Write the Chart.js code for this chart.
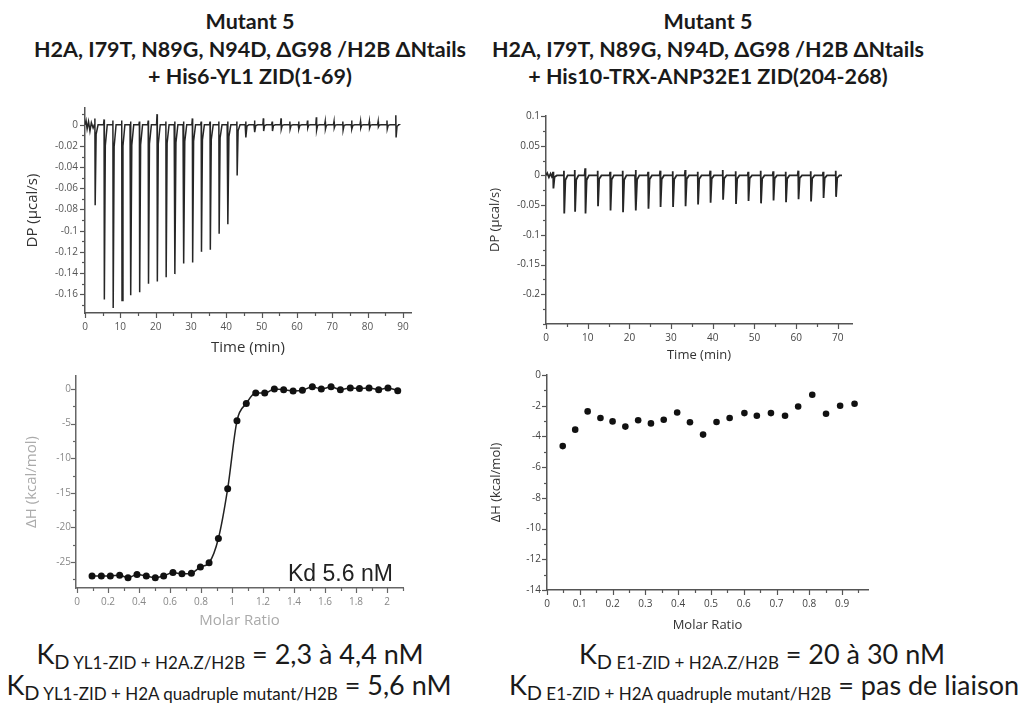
<!DOCTYPE html>
<html>
<head>
<meta charset="utf-8">
<script src="https://cdn.jsdelivr.net/npm/chart.js@4.4.1/dist/chart.umd.min.js"></script>
<style>
  html, body { margin: 0; padding: 0; background: #fff; }
  #page { position: relative; width: 1029px; height: 706px; overflow: hidden; font-family: Lato, 'Open Sans', sans-serif; color: #1a1a1a; }
  canvas { position: absolute; }
  .title { position: absolute; width: 560px; text-align: center; font-weight: 700; font-size: 21.5px; line-height: 27.5px; white-space: nowrap; }
  .kd { position: absolute; width: 600px; text-align: center; font-size: 27px; line-height: 30px; white-space: nowrap; }
  .kd sub { font-size: 17px; vertical-align: -5px; line-height: 0; }
  .kd sub .d { font-size: 20px; }
  .note { position: absolute; font-family: 'Liberation Sans', Arial, sans-serif; font-size: 23px; line-height: 23px; color: #222; }
</style>
</head>
<body>
<div id="page">
  <div class="title" style="left:-30px; top:8px">Mutant 5<br>H2A, I79T, N89G, N94D, ΔG98 /H2B ΔNtails<br>+ His6-YL1 ZID(1-69)</div>
  <div class="title" style="left:428px; top:8px">Mutant 5<br>H2A, I79T, N89G, N94D, ΔG98 /H2B ΔNtails<br>+ His10-TRX-ANP32E1 ZID(204-268)</div>

  <canvas id="thermoLeft" width="426" height="268" style="left:0px; top:95px"></canvas>
  <canvas id="isoLeft" width="418" height="268" style="left:0px; top:365px"></canvas>
  <canvas id="thermoRight" width="387" height="260" style="left:480px; top:104px"></canvas>
  <canvas id="isoRight" width="403" height="272" style="left:480px; top:363px"></canvas>

  <div class="note" style="left:288px; top:562px">Kd 5.6 nM</div>

  <div class="kd" style="left:-70px; top:639px">K<sub><span class="d">D</span> YL1-ZID + H2A.Z/H2B</sub> = 2,3 à 4,4 nM</div>
  <div class="kd" style="left:-71px; top:670px">K<sub><span class="d">D</span> YL1-ZID + H2A quadruple mutant/H2B</sub> = 5,6 nM</div>
  <div class="kd" style="left:462px; top:639px">K<sub><span class="d">D</span> E1-ZID + H2A.Z/H2B</sub> = 20 à 30 nM</div>
  <div class="kd" style="left:464px; top:670px">K<sub><span class="d">D</span> E1-ZID + H2A quadruple mutant/H2B</sub> = pas de liaison</div>
</div>

<script>
// ---- left thermogram (YL1 ZID) ----
const leftTimes = [2.8, 5.4, 7.9, 10.4, 12.9, 15.4, 17.9, 20.4, 22.9, 25.4, 27.9, 30.4, 32.9, 35.4, 37.9, 40.4, 43.0, 45.5,
  48.0, 50.5, 53.0, 55.5, 58.0, 60.5, 63.0, 65.5, 68.0, 70.5, 73.0, 75.5, 78.0, 80.5, 83.0, 85.5, 88.0];
const leftPeaks = [-0.076, -0.165, -0.173, -0.166, -0.161, -0.158, -0.150, -0.148, -0.144, -0.141, -0.131, -0.130, -0.120,
  -0.118, -0.103, -0.094, -0.048, -0.012, -0.007, -0.006, -0.006, -0.004, -0.004, -0.004, -0.003, -0.005, -0.004, -0.003,
  -0.005, -0.004, -0.003, -0.003, -0.002, -0.004, -0.012];
const leftBlips = [0.006, 0.005, 0.004, 0.004, 0.003, 0.003, 0.004, 0.010, 0.003, 0.003, 0.003, 0.006, 0.003, 0.003, 0.003,
  0.003, 0.003, 0.003, 0.004, 0.006, 0.003, 0.006, 0.003, 0.003, 0.004, 0.007, 0.003, 0.003, 0.003, 0.004, 0.003, 0.003,
  0.003, 0.004, 0.009];
const leftStart = [[0, 0], [0.3, 0.004], [0.6, -0.004], [1.0, 0.003], [1.4, -0.006], [1.8, 0.002], [2.3, -0.003]];
const leftEnd = 88.6;

// ---- left isotherm ----
const leftRatio = [0.097, 0.157, 0.215, 0.275, 0.329, 0.387, 0.447, 0.505, 0.559, 0.619, 0.677, 0.738, 0.796, 0.852, 0.912,
  0.972, 1.032, 1.092, 1.153, 1.211, 1.273, 1.333, 1.394, 1.454, 1.518, 1.576, 1.639, 1.699, 1.763, 1.822, 1.884, 1.946,
  2.006, 2.069];
const leftDH = [-27.0, -27.0, -27.0, -26.9, -27.25, -26.8, -27.0, -27.25, -27.0, -26.5, -26.7, -26.6, -25.7, -25.1, -21.6,
  -14.4, -4.6, -2.1, -0.6, -0.6, 0, -0.1, -0.3, -0.2, 0.3, 0, 0.3, -0.1, 0.15, 0.05, 0.15, -0.1, 0.15, -0.25];

// ---- right thermogram (ANP32E1 ZID) ----
const rightTimes = [1.7, 4.3, 6.9, 9.4, 12.4, 15.4, 18.4, 21.5, 24.5, 27.4, 30.4, 33.4, 36.4, 39.4, 42.4, 45.5, 48.5, 51.5,
  54.5, 57.5, 60.5, 63.5, 66.5, 69.5];
const rightPeaks = [-0.022, -0.064, -0.061, -0.064, -0.052, -0.059, -0.062, -0.059, -0.056, -0.053, -0.053, -0.052, -0.049,
  -0.046, -0.041, -0.048, -0.043, -0.047, -0.042, -0.045, -0.040, -0.044, -0.038, -0.036];
const rightBlips = [0.006, 0.008, 0.009, 0.012, 0.008, 0.006, 0.008, 0.009, 0.006, 0.008, 0.007, 0.009, 0.006, 0.008, 0.009,
  0.007, 0.006, 0.008, 0.007, 0.006, 0.008, 0.007, 0.006, 0.008];
const rightStart = [[0, 0], [0.3, 0.004], [0.7, -0.003], [1.1, 0.003], [1.4, -0.002]];
const rightEnd = 71;

// ---- right isotherm ----
const rightRatio = [0.048, 0.086, 0.124, 0.163, 0.200, 0.239, 0.278, 0.317, 0.356, 0.397, 0.436, 0.476, 0.517, 0.557, 0.602,
  0.640, 0.683, 0.726, 0.766, 0.809, 0.851, 0.894, 0.938];
const rightDH = [-4.63, -3.56, -2.37, -2.80, -3.02, -3.36, -2.95, -3.15, -2.91, -2.44, -3.08, -3.88, -3.06, -2.80, -2.48,
  -2.65, -2.48, -2.65, -2.05, -1.29, -2.52, -2.0, -1.87];

// ---- tick labels (major) and minor steps ----
const leftTimeTicks = [0, 10, 20, 30, 40, 50, 60, 70, 80, 90];
const leftDPTicks = [0, -0.02, -0.04, -0.06, -0.08, -0.1, -0.12, -0.14, -0.16];
const leftRatioTicks = [0, 0.2, 0.4, 0.6, 0.8, 1, 1.2, 1.4, 1.6, 1.8, 2];
const leftDHTicks = [0, -5, -10, -15, -20, -25];
const rightTimeTicks = [0, 10, 20, 30, 40, 50, 60, 70];
const rightDPTicks = [0.1, 0.05, 0, -0.05, -0.1, -0.15, -0.2];
const rightRatioTicks = [0, 0.1, 0.2, 0.3, 0.4, 0.5, 0.6, 0.7, 0.8, 0.9];
const rightDHTicks = [0, -2, -4, -6, -8, -10, -12, -14];

Chart.defaults.font.family = "'Open Sans', sans-serif";
Chart.defaults.animation = false;

// one spike per injection: small upward blip, sharp dip, quick return
function thermogram(start, times, peaks, blips, end) {
  const pts = start.map(p => ({x: p[0], y: p[1]}));
  times.forEach((t, i) => {
    pts.push({x: t - 0.15, y: 0});
    pts.push({x: t, y: blips[i]});
    pts.push({x: t + 0.08, y: peaks[i]});
    pts.push({x: t + 0.35, y: peaks[i] * 0.12});
    pts.push({x: t + 0.9, y: 0});
  });
  pts.push({x: end, y: 0});
  return pts;
}

function withMinors(majors, step, min, max) {
  const all = majors.map(v => ({value: v}));
  for (let v = Math.ceil(min / step) * step; v <= max + 1e-9; v += step) {
    const r = +v.toFixed(4);
    if (!majors.some(m => Math.abs(m - r) < 1e-6)) all.push({value: r, minor: true});
  }
  return all.sort((a, b) => a.value - b.value);
}

const fmt = v => String(+v.toFixed(3));

function axis(o) {
  return {
    type: 'linear',
    position: o.position,
    min: o.min,
    max: o.max,
    border: {display: true, color: o.axisColor, width: 1.5},
    grid: {display: false, drawTicks: false},
    afterBuildTicks: s => { s.ticks = withMinors(o.ticks, o.minor, o.min, o.max); },
    afterFit: s => {
      if (o.position === 'bottom') s.height = o.size; else s.width = o.size;
    },
    ticks: {
      autoSkip: false, maxRotation: 0, padding: o.pad, color: o.labelColor,
      font: {size: o.fontSize},
      callback: (v, i, ts) => ts[i].minor ? '' : fmt(v)
    },
    title: {display: true, text: o.title, color: o.titleColor, font: {size: o.titleSize}, padding: o.titlePad}
  };
}

// tick marks drawn by hand so minor ticks can be shorter
const tickMarks = {
  id: 'tickMarks',
  afterDraw(chart) {
    const ctx = chart.ctx;
    ctx.save();
    Object.values(chart.scales).forEach(scale => {
      ctx.strokeStyle = scale.options.border.color;
      ctx.lineWidth = 1.2;
      scale.ticks.forEach(t => {
        const len = t.minor ? 3 : 5;
        const p = Math.round(scale.getPixelForValue(t.value)) + 0.5;
        ctx.beginPath();
        if (scale.isHorizontal()) {
          ctx.moveTo(p, scale.top); ctx.lineTo(p, scale.top + len);
        } else {
          ctx.moveTo(scale.right - len, p); ctx.lineTo(scale.right, p);
        }
        ctx.stroke();
      });
    });
    ctx.restore();
  }
};

function makeChart(id, datasets, xAxis, yAxis) {
  return new Chart(document.getElementById(id), {
    type: 'scatter',
    data: {datasets},
    options: {
      responsive: false,
      devicePixelRatio: 1,
      layout: {padding: {left: 0, top: 10, right: 15, bottom: 0}},
      plugins: {legend: {display: false}, tooltip: {enabled: false}},
      scales: {x: axis(xAxis), y: axis(yAxis)}
    },
    plugins: [tickMarks]
  });
}

makeChart('thermoLeft',
  [{data: thermogram(leftStart, leftTimes, leftPeaks, leftBlips, leftEnd), showLine: true, pointRadius: 0,
    borderColor: '#262626', borderWidth: 1.5}],
  {position: 'bottom', min: 0, max: 92.3, ticks: leftTimeTicks, minor: 5, size: 50, pad: 8,
   axisColor: '#555', labelColor: '#555', fontSize: 10, title: 'Time (min)', titleColor: '#333', titleSize: 15,
   titlePad: {top: 0, bottom: 6}},
  {position: 'left', min: -0.1777, max: 0.0158, ticks: leftDPTicks, minor: 0.01, size: 85, pad: 7,
   axisColor: '#555', labelColor: '#555', fontSize: 10, title: 'DP (µcal/s)', titleColor: '#333', titleSize: 15,
   titlePad: {top: 24, bottom: 0}});

makeChart('isoLeft',
  [{data: leftRatio.map((x, i) => ({x, y: leftDH[i]})), showLine: true, cubicInterpolationMode: 'monotone',
    borderColor: '#222', borderWidth: 1.5, pointRadius: 3.5, pointBackgroundColor: '#111', pointBorderWidth: 0}],
  {position: 'bottom', min: -0.0065, max: 2.103, ticks: leftRatioTicks, minor: 0.1, size: 45, pad: 8,
   axisColor: '#666', labelColor: '#888', fontSize: 10, title: 'Molar Ratio', titleColor: '#aaa', titleSize: 15,
   titlePad: {top: 0, bottom: 3}},
  {position: 'left', min: -28.74, max: 1.87, ticks: leftDHTicks, minor: 2.5, size: 76, pad: 5,
   axisColor: '#666', labelColor: '#888', fontSize: 10, title: 'ΔH (kcal/mol)', titleColor: '#aaa', titleSize: 15,
   titlePad: {top: 23, bottom: 0}});

makeChart('thermoRight',
  [{data: thermogram(rightStart, rightTimes, rightPeaks, rightBlips, rightEnd), showLine: true, pointRadius: 0,
    borderColor: '#262626', borderWidth: 1.8}],
  {position: 'bottom', min: 0, max: 73.4, ticks: rightTimeTicks, minor: 5, size: 40, pad: 8,
   axisColor: '#555', labelColor: '#444', fontSize: 10, title: 'Time (min)', titleColor: '#333', titleSize: 13,
   titlePad: {top: 0, bottom: 1}},
  {position: 'left', min: -0.25, max: 0.1, ticks: rightDPTicks, minor: 0.025, size: 66, pad: 6,
   axisColor: '#555', labelColor: '#444', fontSize: 10, title: 'DP (µcal/s)', titleColor: '#333', titleSize: 13,
   titlePad: {top: 7, bottom: 0}});

makeChart('isoRight',
  [{data: rightRatio.map((x, i) => ({x, y: rightDH[i]})), showLine: false,
    pointRadius: 3.3, pointBackgroundColor: '#111', pointBorderWidth: 0}],
  {position: 'bottom', min: 0, max: 0.979, ticks: rightRatioTicks, minor: 0.05, size: 45, pad: 8,
   axisColor: '#555', labelColor: '#444', fontSize: 10, title: 'Molar Ratio', titleColor: '#333', titleSize: 13,
   titlePad: {top: 0, bottom: 2}},
  {position: 'left', min: -14, max: 0, ticks: rightDHTicks, minor: 1, size: 67, pad: 6,
   axisColor: '#555', labelColor: '#444', fontSize: 10, title: 'ΔH (kcal/mol)', titleColor: '#333', titleSize: 13,
   titlePad: {top: 8, bottom: 0}});
</script>
</body>
</html>
